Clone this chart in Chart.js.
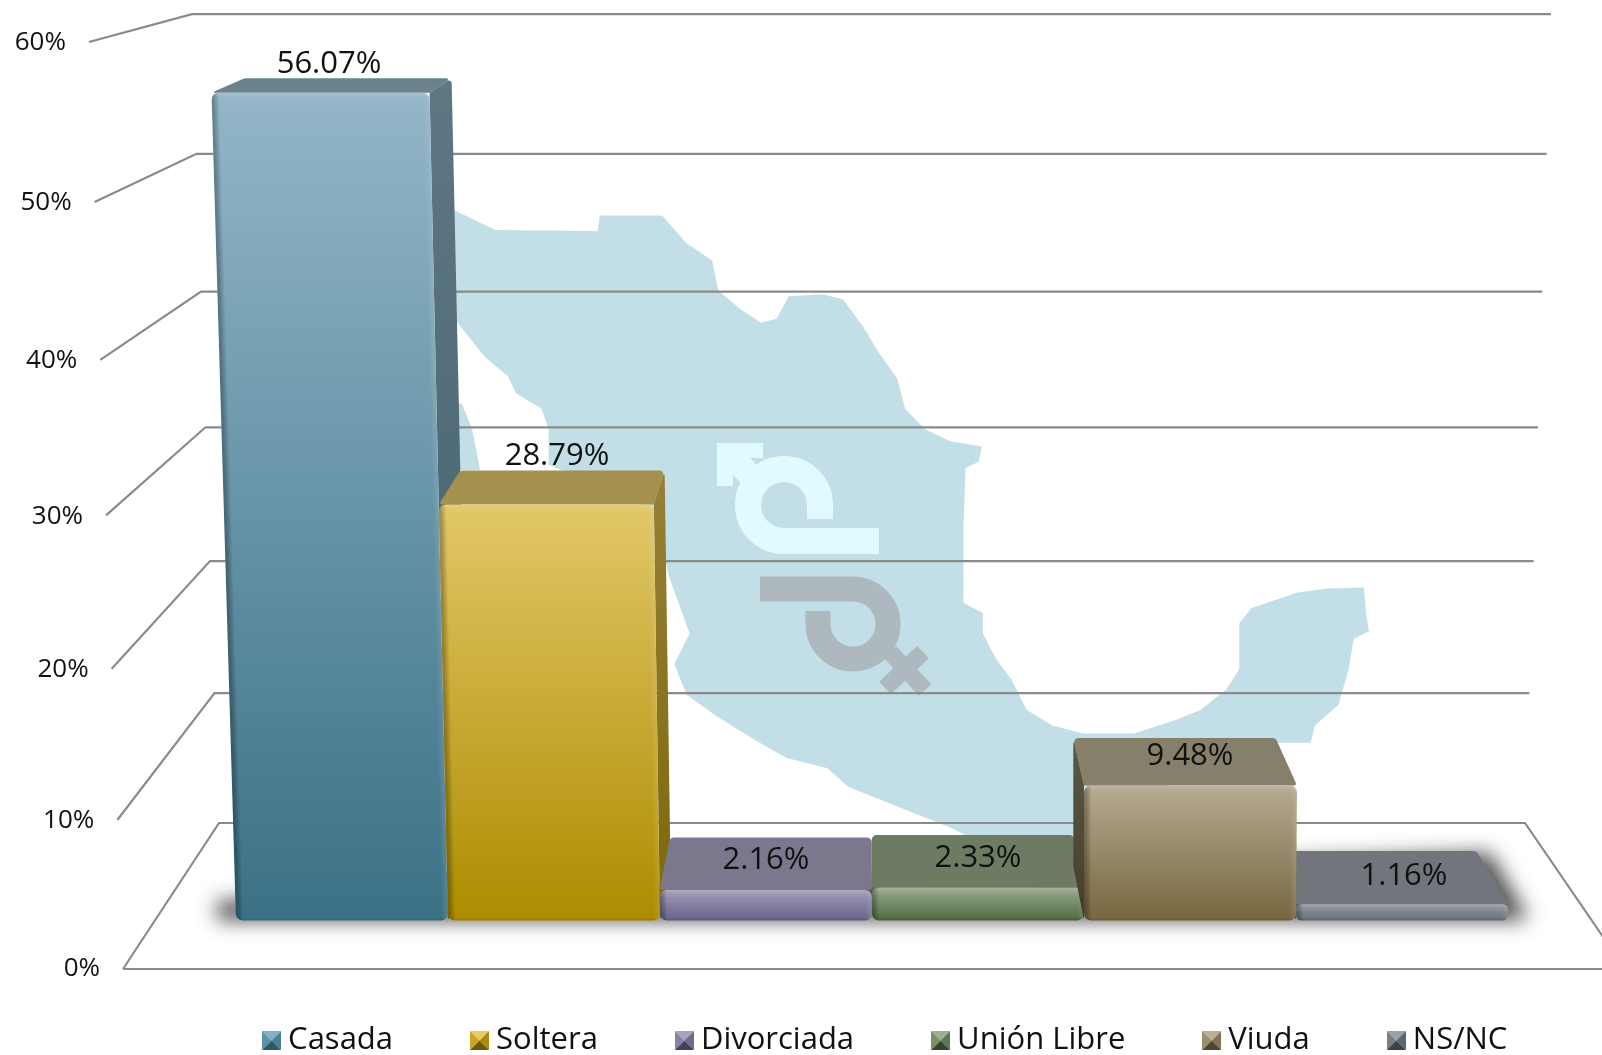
<!DOCTYPE html>
<html>
<head>
<meta charset="utf-8">
<style>html,body{margin:0;padding:0;background:#fff;overflow:hidden}canvas{display:block}</style>
<script src="https://cdn.jsdelivr.net/npm/chart.js@4/dist/chart.umd.js"></script>
</head>
<body>
<canvas id="c" width="1602" height="1055"></canvas>
<script>
// ---- data ----
const categories = ['Casada','Soltera','Divorciada','Unión Libre','Viuda','NS/NC'];
const values = [56.07,28.79,2.16,2.33,9.48,1.16];
const valueLabels = ['56.07%','28.79%','2.16%','2.33%','9.48%','1.16%'];
const tickValues = [0,10,20,30,40,50,60];

// ---- style ----
const faceTop    = ['#93b6c8','#e2c768','#a09cb8','#9aab8c','#b6aa90','#8f97a0'];
const faceBottom = ['#3b7186','#ad8c00','#68628a','#4f6a3f','#77673f','#697079'];
const topFace    = ['#6b828d','#a5914f','#7b788d','#6e7b63','#86806b','#72767c'];
const sideTop    = ['#5f7783','#96803a','#6f6c80','#5f6b55','#5d5848','#60646a'];
const sideBottom = ['#3f5e6c','#7d6808','#56506c','#455438','#453d28','#50545a'];
const swatchCols = [
  ['#7fb2c6','#5d93a8','#4d7f94','#2f5765'],
  ['#eccb5c','#c9a52c','#a88a14','#6f5c08'],
  ['#a8a4c0','#8883a4','#716c8e','#45405c'],
  ['#9cb08c','#7a9068','#5f7750','#35472a'],
  ['#bdb193','#9c8f70','#7f7353','#4e4530'],
  ['#9aa2aa','#767e88','#5f6670','#3c4148']
];
const drawOrder = [0,1,2,3,5,4];
const labelDx = [-13,3,0,0,0,2];
const labelDy = [-28,-48,-30,-29,-29,-28];
const LABEL_FONT = '"Open Sans", sans-serif';
const GRID = '#8a8a8a';

// perspective value axis: pixel = zero - (a + b*v)*v
class PerspectiveScale extends Chart.LinearScale {
  getPixelForValue(v){
    const o = this.options.persp;
    return o.zero - (o.a + o.b*v)*v;
  }
}
PerspectiveScale.id = 'perspective';
PerspectiveScale.defaults = Chart.LinearScale.defaults;
Chart.register(PerspectiveScale);

// 3D geometry helpers
const VX = 870, VXS = 1084;
const lean = (x,h)=> x - (VXS-x)*3.5e-5*h;
const depthX = x => (VX-x)*0.05;
const depthY = h => 54-0.048*h;

function rpoly(ctx,pts,radii){
  const n=pts.length;
  ctx.beginPath();
  for(let i=0;i<n;i++){
    const r=Array.isArray(radii)?radii[i]:radii;
    const p=pts[i],a=pts[(i+n-1)%n],b=pts[(i+1)%n];
    if(r<=0){ if(i===0) ctx.moveTo(p[0],p[1]); else ctx.lineTo(p[0],p[1]); continue; }
    const ax=a[0]-p[0],ay=a[1]-p[1],bx=b[0]-p[0],by=b[1]-p[1];
    const la=Math.hypot(ax,ay),lb=Math.hypot(bx,by);
    const cos=(ax*bx+ay*by)/(la*lb), ang=Math.acos(Math.max(-1,Math.min(1,cos)));
    const t=Math.min(r/Math.tan(ang/2),la/2,lb/2,r);
    const rr=t*Math.tan(ang/2);
    const s=[p[0]+ax/la*t,p[1]+ay/la*t];
    if(i===0) ctx.moveTo(s[0],s[1]); else ctx.lineTo(s[0],s[1]);
    ctx.arcTo(p[0],p[1],p[0]+bx/lb*t,p[1]+by/lb*t,rr);
  }
  ctx.closePath();
}

Chart.BarController.prototype.draw = function(){
  const rects=this._cachedMeta.data;
  drawOrder.forEach(i=>{ rects[i].$idx=i; rects[i].draw(this._ctx); });
};

Chart.BarElement.prototype.draw = function(ctx){
  const i=this.$idx, xl=this.x-this.width/2, xr=this.x+this.width/2, yt=this.y, yb=this.base;
  const h=yb-yt;
  const fl=[lean(xl,h),yt], fr=[lean(xr,h),yt], bl0=[xl,yb], br0=[xr,yb];
  const dy=depthY(h);
  const tl=[fl[0]+depthX(fl[0]),yt-dy], tr=[fr[0]+depthX(fr[0]),yt-dy];
  const showR=tr[0]>fr[0]+1, showL=tl[0]<fl[0]-1;
  ctx.save();
  // top face
  ctx.fillStyle=topFace[i];
  rpoly(ctx,[fl,tl,tr,fr],[showL?0:3,5,5,showR?0:3]); ctx.fill();
  // side face
  let sg=ctx.createLinearGradient(0,yt-dy,0,yb);
  sg.addColorStop(0,sideTop[i]); sg.addColorStop(1,sideBottom[i]);
  ctx.fillStyle=sg;
  const bd=depthY(0);
  if(showR){
    rpoly(ctx,[fr,tr,[xr+depthX(xr),yb-bd],br0],[0,5,2,2]); ctx.fill();
  }
  if(showL){
    rpoly(ctx,[fl,tl,[xl+depthX(xl),yb-bd],bl0],[0,5,2,2]); ctx.fill();
  }
  // front face
  const g=ctx.createLinearGradient(0,yt,0,yb);
  g.addColorStop(0,faceTop[i]); g.addColorStop(1,faceBottom[i]);
  ctx.fillStyle=g;
  rpoly(ctx,[fl,fr,br0,bl0],Math.min(7,h/3)); ctx.fill();
  // bevels
  ctx.save(); ctx.clip();
  const wedge=Math.abs(fl[0]-xl);
  const mk=(a,b,c1,w)=>{
    ctx.beginPath();
    ctx.moveTo(a[0],a[1]); ctx.lineTo(b[0],b[1]); ctx.lineTo(b[0]+w,b[1]); ctx.lineTo(a[0]+w,a[1]); ctx.closePath();
    ctx.fillStyle=c1; ctx.fill();
  };
  for(let k=0;k<6;k++){
    mk(fl,bl0,'rgba(0,0,0,0.05)',7-k);
    mk(fr,br0,'rgba(255,255,255,0.025)',-(6-k));
  }
  ctx.fillStyle='rgba(255,255,255,0.12)';
  ctx.fillRect(Math.min(fl[0],xl),yt,this.width+wedge,3);
  ctx.fillStyle='rgba(255,255,255,0.05)';
  ctx.fillRect(Math.min(fl[0],xl),yt+3,this.width+wedge,4);
  ctx.fillStyle='rgba(0,0,0,0.08)';
  ctx.fillRect(Math.min(fl[0],xl),yb-2,this.width+wedge,2);
  ctx.restore();
  ctx.restore();
};

// decorative background (map and gender symbols)
const K = 1602/1568;
const mapMain = [[430,195],[443,205],[485,225],[585,226],[587,211],[648,211],[672,238],[697,255],[703,284],[725,303],[745,316],[760,312],[772,290],[805,288],[825,293],[845,320],[860,345],[878,370],[886,400],[905,420],[930,432],[961,437],[958,452],[945,458],[943,520],[943,590],[962,600],[962,620],[975,645],[990,665],[1005,695],[1030,710],[1060,718],[1110,718],[1150,705],[1175,695],[1200,675],[1213,655],[1213,610],[1225,595],[1270,580],[1300,576],[1335,575],[1337,600],[1340,618],[1325,625],[1320,655],[1310,690],[1287,710],[1283,727],[1225,727],[1190,735],[1100,800],[1060,830],[960,825],[930,810],[880,790],[830,770],[810,752],[770,742],[740,725],[700,700],[672,680],[660,650],[675,620],[655,565],[640,500],[537,455],[537,420],[530,400],[505,385],[497,368],[475,350],[447,315],[430,300]];
const mapBaja = [[440,395],[452,395],[462,420],[470,460],[440,460]];

const backgroundArt = {
  id:'backgroundArt',
  afterLayout(chart){
    const L=chart.legend;
    L.left+=4; L.right+=4; L.top+=11; L.bottom+=11;
  },
  beforeDraw(chart){
    const c=chart.ctx;
    c.save();
    c.fillStyle='#c2dfe7';
    [mapMain,mapBaja].forEach(p=>{
      c.beginPath();
      p.forEach((q,i)=> i?c.lineTo(q[0]*K,q[1]*K):c.moveTo(q[0]*K,q[1]*K));
      c.closePath(); c.fill();
    });
    // male symbol
    c.lineCap='butt'; c.lineJoin='miter';
    c.strokeStyle=c.fillStyle='#e0faff'; c.lineWidth=26;
    c.beginPath(); c.moveTo(820,519); c.lineTo(820,505); c.arc(784,505,36,0,Math.PI/2,true); c.lineTo(879,541); c.stroke();
    c.beginPath(); c.moveTo(717,443); c.lineTo(763,443); c.lineTo(763,458); c.lineTo(733,458); c.lineTo(733,486); c.lineTo(717,486); c.closePath(); c.fill();
    c.lineWidth=24; c.beginPath(); c.moveTo(726,451); c.lineTo(762,487); c.stroke();
    // female symbol
    c.strokeStyle='#aeb9bf'; c.lineWidth=25;
    c.beginPath(); c.moveTo(818,611); c.lineTo(818,624); c.arc(853,624,35,Math.PI,-Math.PI/2,true); c.lineTo(760,589); c.stroke();
    c.lineWidth=17;
    c.beginPath(); c.moveTo(890,652); c.lineTo(925,690); c.moveTo(923,652); c.lineTo(885,688); c.stroke();
    c.restore();
  },
  beforeDatasetsDraw(chart){
    const c=chart.ctx, s=chart.scales, back=s.yWall, front=s.yFront;
    c.save();
    c.strokeStyle=GRID; c.lineWidth=2.2; c.lineJoin='miter';
    const fx=v=>123-0.567*v, wx=v=>219-0.45*v, rx=v=>1525+0.433*v;
    tickValues.forEach(v=>{
      const yF=front.getPixelForValue(v), yW=back.getPixelForValue(v);
      c.beginPath();
      c.moveTo(fx(v),yF); c.lineTo(wx(v),yW); c.lineTo(rx(v),yW);
      if(v===0){ c.lineTo(1625,yF); c.moveTo(fx(v),yF); c.lineTo(1625,yF); }
      c.stroke();
      c.fillStyle='#111';
      c.font='26px '+LABEL_FONT;
      c.textAlign='right'; c.textBaseline='middle';
      c.fillText(pct(v),fx(v)-23,yF+(v===0?0:1));
    });
    // floor shadow
    c.shadowColor='rgba(0,0,0,0.68)'; c.shadowBlur=20; c.shadowOffsetX=3000; c.shadowOffsetY=0;
    c.fillStyle='#000';
    const zero=s.y.getPixelForValue(0);
    c.beginPath();
    c.moveTo(217-3000,zero-20); c.lineTo(1490-3000,zero-68); c.lineTo(1528-3000,zero-3); c.lineTo(1520-3000,zero); c.lineTo(217-3000,zero); c.closePath(); c.fill();
    c.restore();
  },
  afterDatasetsDraw(chart){
    const c=chart.ctx, meta=chart.getDatasetMeta(0);
    c.save();
    c.fillStyle='#111'; c.font='31px '+LABEL_FONT; c.textAlign='center'; c.textBaseline='middle';
    meta.data.forEach((el,i)=> c.fillText(valueLabels[i],el.x+labelDx[i],el.y+labelDy[i]));
    c.restore();
  }
};

function swatch(cols){
  const S=19, cv=document.createElement('canvas'); cv.width=S; cv.height=S;
  const x=cv.getContext('2d');
  const tri=(a,b,col)=>{x.fillStyle=col;x.beginPath();x.moveTo(a[0],a[1]);x.lineTo(b[0],b[1]);x.lineTo(S/2,S/2);x.closePath();x.fill();};
  tri([0,0],[S,0],cols[0]); tri([0,0],[0,S],cols[1]); tri([S,0],[S,S],cols[2]); tri([0,S],[S,S],cols[3]);
  return cv;
}
const swatches = swatchCols.map(swatch);

const pct = v => v+'%';
const hiddenAxis = (zero,a,b)=>({type:'perspective',display:false,min:0,max:60,persp:{zero,a,b},ticks:{stepSize:10,callback:pct}});
// invisible axes that only reserve the gutters beside the plot
const gutter = (zero,a,b,pos,w)=>({type:'perspective',position:pos,min:0,max:60,persp:{zero,a,b},
  grid:{display:false},border:{display:false},ticks:{display:false,stepSize:10,callback:pct},afterFit(s){s.width=w;}});

new Chart(document.getElementById('c'),{
  type:'bar',
  data:{labels:categories,datasets:[{data:values,backgroundColor:faceTop,barPercentage:1,categoryPercentage:1,clip:false}]},
  plugins:[backgroundArt],
  options:{
    responsive:false,animation:false,
    layout:{padding:{left:168,right:0,top:0,bottom:0}},
    scales:{
      x:{display:false,offset:true,grid:{display:false}},
      y:gutter(920.5,14.12,0.0115,'left',68),
      yWall:gutter(823,12.9,0.00967,'right',94),
      yFront:hiddenAxis(969,14.79,0.011)
    },
    plugins:{
      tooltip:{enabled:false},
      legend:{
        display:true,position:'bottom',
        labels:{
          font:{family:'"Open Sans", sans-serif',size:31},color:'#111',
          padding:85.5,boxWidth:2,usePointStyle:true,
          generateLabels:()=>categories.map((t,i)=>({text:t,fillStyle:faceTop[i],strokeStyle:faceTop[i],lineWidth:0,hidden:false,index:i,datasetIndex:0,pointStyle:swatches[i],fontColor:'#111'}))
        }
      }
    }
  }
});
</script>
</body>
</html>
